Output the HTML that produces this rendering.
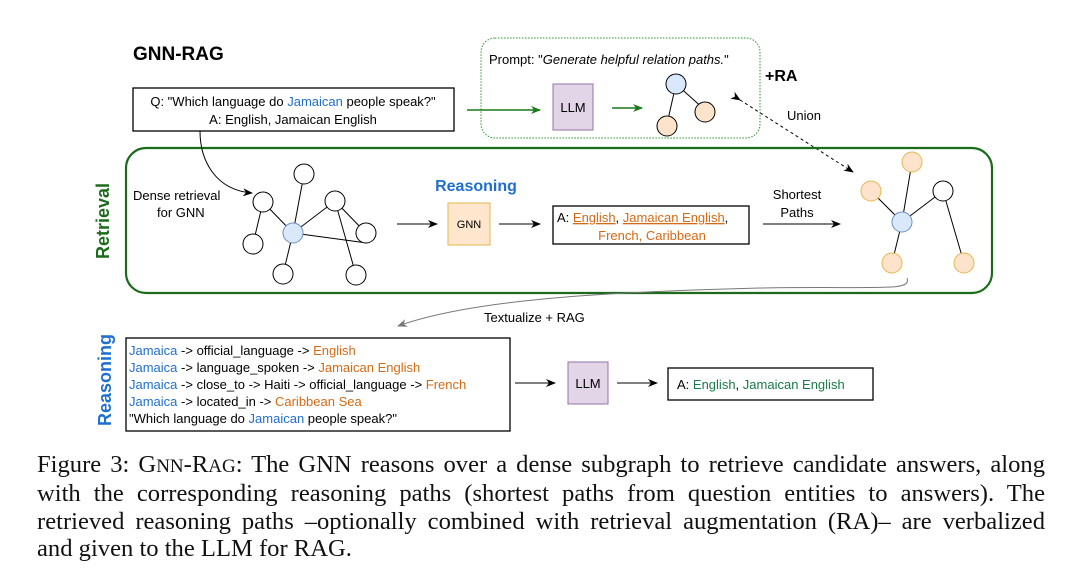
<!DOCTYPE html>
<html><head><meta charset="utf-8"><style>
body{margin:0;width:1080px;height:574px;background:#fff;overflow:hidden}
svg text{font-family:"Liberation Sans",sans-serif}
.cap{position:absolute;left:37px;top:451px;width:1008px;font-family:"Liberation Serif",serif;font-size:24.6px;line-height:27.3px;color:#111}
.cap div{text-align:justify;text-align-last:justify;white-space:nowrap}
.cap div.l{text-align-last:left}
</style></head><body>
<svg width="1080" height="574" style="position:absolute;left:0;top:0">
<defs>
<marker id="a" markerWidth="10" markerHeight="8" refX="9" refY="4" orient="auto" markerUnits="userSpaceOnUse"><path d="M0,0 L10,4 L0,8 L3,4z" fill="#000"/></marker>
<marker id="g" markerWidth="10" markerHeight="8" refX="9" refY="4" orient="auto" markerUnits="userSpaceOnUse"><path d="M0,0 L10,4 L0,8 L3,4z" fill="#1a7a1a"/></marker>
<marker id="gr" markerWidth="10" markerHeight="8" refX="9" refY="4" orient="auto" markerUnits="userSpaceOnUse"><path d="M0,0 L10,4 L0,8 L3,4z" fill="#777"/></marker>
</defs>
<text x="133" y="60" font-size="19" font-weight="bold">GNN-RAG</text>
<rect x="481" y="38" width="279" height="100" rx="14" fill="none" stroke="#2a9a2a" stroke-dasharray="1.5,1.5"/>
<text x="489" y="64" font-size="13">Prompt: "<tspan font-style="italic">Generate helpful relation paths.</tspan>"</text>
<text x="765" y="81" font-size="16" font-weight="bold">+RA</text>
<rect x="553" y="84" width="40" height="46" fill="#e1d5e7" stroke="#9673a6"/>
<text x="573" y="112" font-size="13" text-anchor="middle">LLM</text>
<line x1="612" y1="108" x2="642" y2="108" stroke="#1a7a1a" stroke-width="1.5" marker-end="url(#g)"/>
<line x1="676" y1="84" x2="667" y2="124" stroke="#000"/><line x1="676" y1="84" x2="705" y2="110" stroke="#000"/>
<circle cx="676" cy="84" r="10" fill="#dae8fc" stroke="#000"/>
<circle cx="667" cy="126" r="10" fill="#fde3cc" stroke="#000"/>
<circle cx="705" cy="112" r="10" fill="#fde3cc" stroke="#000"/>
<rect x="133" y="88" width="321" height="43" fill="#fff" stroke="#000" stroke-width="1.3"/>
<text x="293" y="106" font-size="13" text-anchor="middle">Q: "Which language do <tspan fill="#1f6fd0">Jamaican</tspan> people speak?"</text>
<text x="293" y="124" font-size="13" text-anchor="middle">A: English, Jamaican English</text>
<line x1="467" y1="110" x2="540" y2="110" stroke="#1a7a1a" stroke-width="1.5" marker-end="url(#g)"/>
<line x1="740" y1="100" x2="853" y2="172" stroke="#000" stroke-dasharray="3,3" marker-start="url(#a)" marker-end="url(#a)"/>
<text x="787" y="120" font-size="13">Union</text>
<rect x="126" y="148" width="866" height="145" rx="20" fill="none" stroke="#1a6b1a" stroke-width="2.2"/>
<text transform="translate(109,221) rotate(-90)" font-size="18" font-weight="bold" fill="#1a6b1a" text-anchor="middle">Retrieval</text>
<path d="M200,131 C200,160 215,190 252,193" fill="none" stroke="#000" marker-end="url(#a)"/>
<text x="133" y="200" font-size="13">Dense retrieval</text>
<text x="157" y="217" font-size="13">for GNN</text>
<g stroke="#000">
<line x1="263" y1="202" x2="253" y2="244"/><line x1="263" y1="202" x2="293" y2="233"/>
<line x1="293" y1="233" x2="304" y2="174"/><line x1="293" y1="233" x2="335" y2="201"/>
<line x1="293" y1="233" x2="367" y2="243"/><line x1="293" y1="233" x2="283" y2="274"/>
<line x1="335" y1="201" x2="366" y2="233"/><line x1="335" y1="201" x2="356" y2="275"/>
</g>
<g fill="#fff" stroke="#000">
<circle cx="304" cy="174" r="10"/><circle cx="263" cy="202" r="10"/><circle cx="253" cy="244" r="10"/>
<circle cx="335" cy="201" r="10"/><circle cx="366" cy="233" r="10"/><circle cx="283" cy="274" r="10"/><circle cx="356" cy="275" r="10"/>
</g>
<circle cx="293" cy="233" r="10" fill="#dae8fc" stroke="#6c8ebf"/>
<line x1="397" y1="224" x2="437" y2="224" stroke="#000" marker-end="url(#a)"/>
<text x="476" y="191" font-size="16" font-weight="bold" fill="#1f6fd0" text-anchor="middle">Reasoning</text>
<rect x="448" y="203" width="42" height="42" fill="#ffe6cc" stroke="#e6b84d"/>
<text x="469" y="228" font-size="11" text-anchor="middle">GNN</text>
<line x1="499" y1="224" x2="540" y2="224" stroke="#000" marker-end="url(#a)"/>
<rect x="553" y="206" width="196" height="38" fill="#fff" stroke="#000" stroke-width="1.3"/>
<text x="557" y="222" font-size="13">A: <tspan fill="#d46a14" text-decoration="underline">English</tspan>, <tspan fill="#d46a14" text-decoration="underline">Jamaican English</tspan>,</text>
<text x="652" y="240" font-size="13" fill="#d46a14" text-anchor="middle">French, Caribbean</text>
<text x="797" y="199" font-size="13" text-anchor="middle">Shortest</text>
<text x="797" y="217" font-size="13" text-anchor="middle">Paths</text>
<line x1="763" y1="224" x2="840" y2="224" stroke="#000" marker-end="url(#a)"/>
<g stroke="#000">
<line x1="902" y1="222" x2="912" y2="162"/><line x1="902" y1="222" x2="871" y2="191"/>
<line x1="902" y1="222" x2="943" y2="191"/><line x1="902" y1="222" x2="892" y2="263"/>
<line x1="943" y1="191" x2="964" y2="263"/>
</g>
<g fill="#fde3cc" stroke="#e6b84d">
<circle cx="912" cy="162" r="10"/><circle cx="871" cy="191" r="10"/><circle cx="892" cy="263" r="10"/><circle cx="964" cy="263" r="10"/>
</g>
<circle cx="943" cy="191" r="10" fill="#fff" stroke="#000"/>
<circle cx="902" cy="222" r="10" fill="#dae8fc" stroke="#6c8ebf"/>
<path d="M907,278 C912,292 880,286 760,288 C600,292 470,300 398,326" fill="none" stroke="#777" marker-end="url(#gr)"/>
<text x="484" y="322" font-size="13">Textualize + RAG</text>
<text transform="translate(111,380) rotate(-90)" font-size="18" font-weight="bold" fill="#1f6fd0" text-anchor="middle">Reasoning</text>
<rect x="126" y="338" width="384" height="93" fill="#fff" stroke="#000" stroke-width="1.3"/>
<g font-size="13">
<text x="129" y="355"><tspan fill="#1f6fd0">Jamaica</tspan> -&gt; official_language -&gt; <tspan fill="#d46a14">English</tspan></text>
<text x="129" y="372"><tspan fill="#1f6fd0">Jamaica</tspan> -&gt; language_spoken -&gt; <tspan fill="#d46a14">Jamaican English</tspan></text>
<text x="129" y="389"><tspan fill="#1f6fd0">Jamaica</tspan> -&gt; close_to -&gt; Haiti -&gt; official_language -&gt; <tspan fill="#d46a14">French</tspan></text>
<text x="129" y="406"><tspan fill="#1f6fd0">Jamaica</tspan> -&gt; located_in -&gt; <tspan fill="#d46a14">Caribbean Sea</tspan></text>
<text x="129" y="423">"Which language do <tspan fill="#1f6fd0">Jamaican</tspan> people speak?"</text>
</g>
<line x1="515" y1="383" x2="555" y2="383" stroke="#000" marker-end="url(#a)"/>
<rect x="568" y="362" width="40" height="42" fill="#e1d5e7" stroke="#9673a6"/>
<text x="588" y="388" font-size="13" text-anchor="middle">LLM</text>
<line x1="617" y1="383" x2="657" y2="383" stroke="#000" marker-end="url(#a)"/>
<rect x="668" y="368" width="205" height="32" fill="#fff" stroke="#000" stroke-width="1.3"/>
<text x="677" y="389" font-size="13">A: <tspan fill="#1a7a4a">English</tspan>, <tspan fill="#1a7a4a">Jamaican English</tspan></text>
</svg>
<div class="cap">
<div>Figure 3: G<span style="font-size:19px">NN</span>-R<span style="font-size:19px">AG</span>: The GNN reasons over a dense subgraph to retrieve candidate answers, along</div>
<div>with the corresponding reasoning paths (shortest paths from question entities to answers). The</div>
<div>retrieved reasoning paths –optionally combined with retrieval augmentation (RA)– are verbalized</div>
<div class="l">and given to the LLM for RAG.</div>
</div>
</body></html>
